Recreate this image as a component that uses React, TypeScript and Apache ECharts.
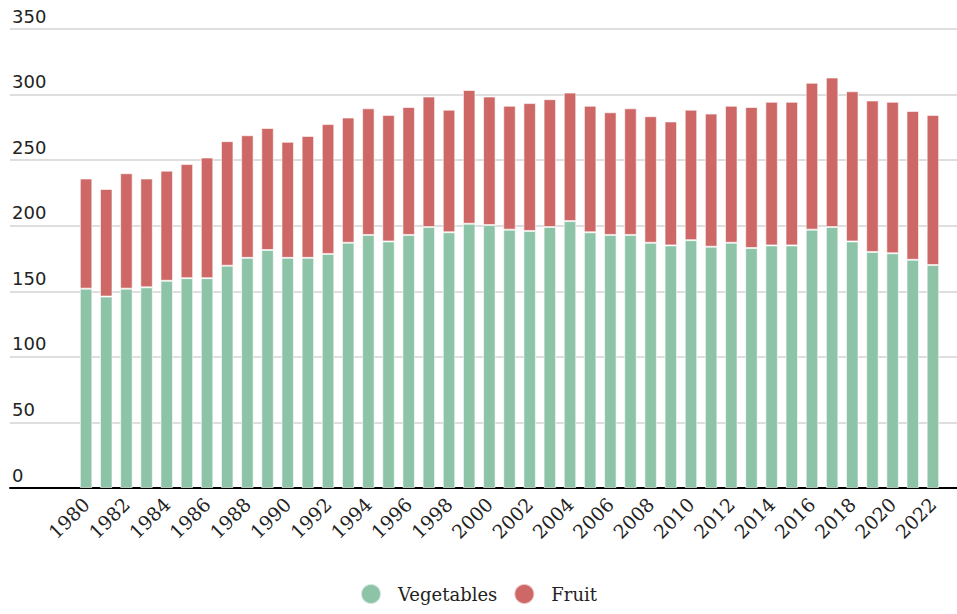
import React, { useEffect, useRef } from "react";
import * as echarts from "echarts";

const years: string[] = [];
for (let y = 1980; y <= 2022; y++) years.push(String(y));

const vegetables = [
  152, 146, 152, 153, 158, 160, 160, 169.5, 175.5, 181.5,
  175.5, 175.5, 178.5, 187, 193, 188, 193, 199, 195, 201.5,
  200.5, 197, 196, 199, 203.5, 195, 193, 193, 187, 185,
  189, 184, 187, 183, 185, 185, 197, 199, 188, 180,
  179, 174, 170,
];

const fruit = [
  84, 82, 88, 83, 84, 87, 92, 95, 93.5, 93,
  88.5, 93, 99, 95.5, 96.5, 96.5, 97.5, 99.5, 93.5, 102,
  98, 94.5, 97.5, 97.5, 98, 96.5, 93.5, 96.5, 96.5, 94.5,
  99.5, 101.5, 104.5, 107.5, 109.5, 109.5, 112, 114, 114.5, 115.5,
  115.5, 113.5, 114.5,
];

const yMin = 0;
const yMax = 350;
const yStep = 50;

export default function App() {
  const ref = useRef<HTMLDivElement>(null);
  useEffect(() => {
    if (!ref.current) return;
    const chart = echarts.init(ref.current, undefined, { renderer: "svg" });
    chart.setOption({
      animation: false,
      backgroundColor: "#ffffff",
      grid: [
        { left: 10, right: 0, top: 29, bottom: 126 },
        { left: 76, right: 14, top: 29, bottom: 126 },
      ],
      xAxis: [
        {
          gridIndex: 0,
          type: "value",
          min: 0,
          max: 1,
          axisLine: { show: true, onZero: false, lineStyle: { color: "#000", width: 2 } },
          axisTick: { show: false },
          axisLabel: { show: false },
          splitLine: { show: false },
        },
        {
          gridIndex: 1,
          type: "category",
          data: years,
          axisLine: { show: false },
          axisTick: { show: false },
          axisLabel: {
            interval: 1,
            rotate: 45,
            margin: 13,
            fontFamily: "DejaVu Serif",
            fontSize: 19,
            color: "#222",
          },
        },
      ],
      yAxis: [
        {
          gridIndex: 0,
          type: "value",
          min: yMin,
          max: yMax,
          interval: yStep,
          axisLine: { show: false },
          axisTick: { show: false },
          splitLine: { show: true, lineStyle: { color: "#d3d3d3", width: 1.5 } },
          axisLabel: {
            inside: true,
            margin: 2,
            verticalAlign: "bottom",
            padding: [0, 0, 4, 0],
            fontFamily: "DejaVu Sans",
            fontSize: 18,
            color: "#222",
          },
        },
        {
          gridIndex: 1,
          type: "value",
          min: yMin,
          max: yMax,
          interval: yStep,
          show: false,
          splitLine: { show: false },
        },
      ],
      legend: {
        bottom: 4,
        left: "center",
        icon: "circle",
        itemWidth: 20,
        itemHeight: 20,
        itemGap: 16,
        textStyle: {
          fontFamily: "DejaVu Serif",
          fontSize: 18,
          color: "#222",
          padding: [0, 0, 0, 12],
        },
        data: ["Vegetables", "Fruit"],
      },
      series: [
        {
          name: "Vegetables",
          type: "bar",
          stack: "total",
          xAxisIndex: 1,
          yAxisIndex: 1,
          data: vegetables,
          barWidth: "62%",
          itemStyle: { color: "#8dc4a8", borderColor: "rgba(255,255,255,0.6)", borderWidth: 1 },
        },
        {
          name: "Fruit",
          type: "bar",
          stack: "total",
          xAxisIndex: 1,
          yAxisIndex: 1,
          data: fruit,
          barWidth: "62%",
          itemStyle: { color: "#cd6866", borderColor: "rgba(255,255,255,0.6)", borderWidth: 1 },
        },
      ],
    });
    return () => chart.dispose();
  }, []);
  return (
    <div
      ref={ref}
      style={{ position: "absolute", left: 0, top: 0, width: 957, height: 614 }}
    />
  );
}
